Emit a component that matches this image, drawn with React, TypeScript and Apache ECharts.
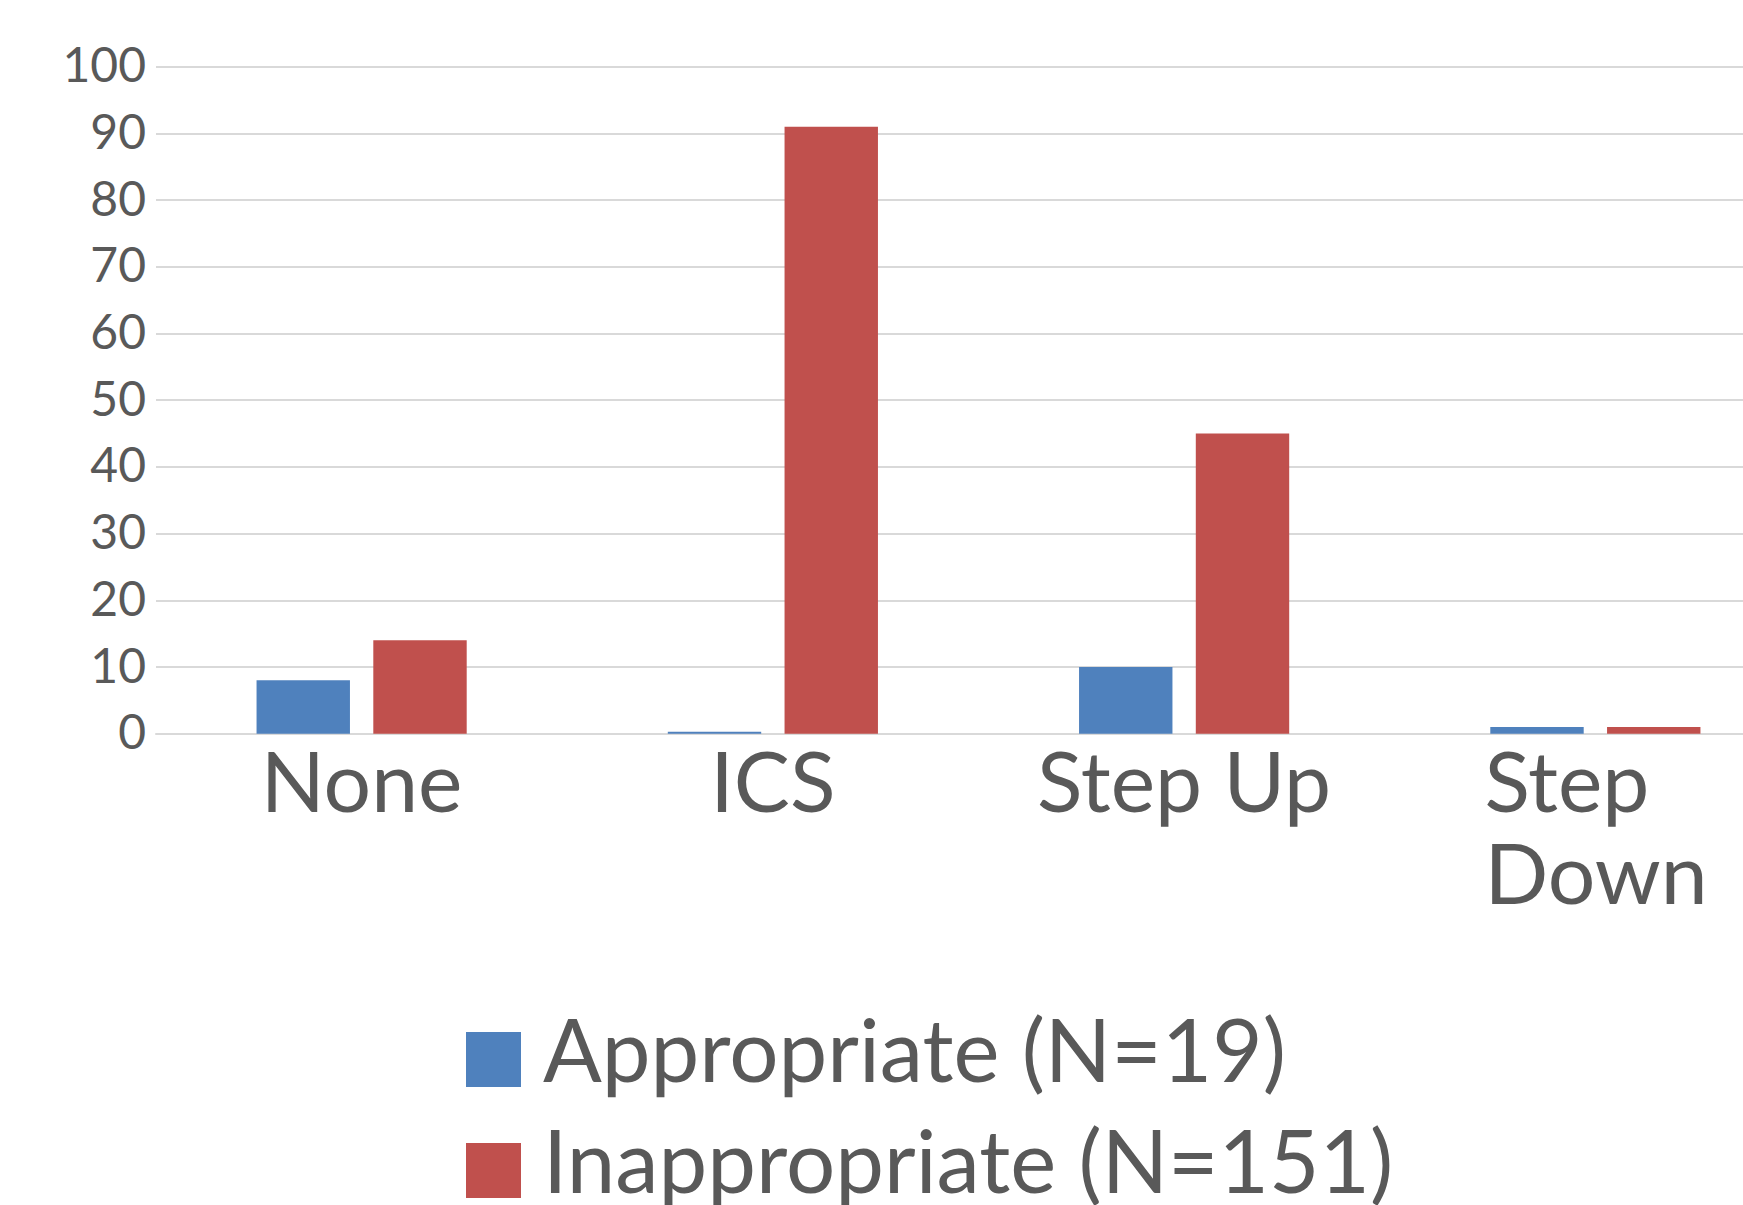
import React, { useEffect, useRef } from "react";
import * as echarts from "echarts";

// Categories along the x axis
const categories = ["None", "ICS", "Step Up", "Step Down"];
// Counts per category for each group
const appropriate = [8, 0, 10, 1];
const inappropriate = [14, 91, 45, 1];
const seriesNames = ["Appropriate (N=19)", "Inappropriate (N=151)"];
const yMin = 0;
const yMax = 100;
const yStep = 10;

const TEXT = "#595959";
const FONT = "Lato";

// One legend box per series, stacked vertically
function legendBox(name: string, top: number) {
  return {
    orient: "vertical",
    left: 466,
    top,
    icon: "rect",
    itemWidth: 55,
    itemHeight: 55,
    padding: 0,
    selectedMode: false,
    formatter: (n: string) => `{t|${n}}`,
    textStyle: {
      fontFamily: FONT,
      fontSize: 87,
      color: TEXT,
      rich: {
        t: { fontFamily: FONT, fontSize: 87, color: TEXT, lineHeight: 55, padding: [0, 0, 22, 17] },
      },
    },
    data: [name],
  };
}

export default function App() {
  const ref = useRef<HTMLDivElement>(null);

  useEffect(() => {
    if (!ref.current) return;
    const chart = echarts.init(ref.current, undefined, { renderer: "svg" });
    chart.setOption({
      animation: false,
      backgroundColor: "#ffffff",
      grid: { left: 156, width: 1645, top: 66.7, height: 667, containLabel: false, outerBoundsMode: "none" },
      legend: [legendBox(seriesNames[0], 1005), legendBox(seriesNames[1], 1116)],
      xAxis: {
        type: "category",
        data: categories,
        axisLine: { show: true, lineStyle: { color: "#D9D9D9", width: 2 } },
        axisTick: { show: false },
        axisLabel: {
          margin: 0,
          fontFamily: FONT,
          fontSize: 84,
          color: TEXT,
          lineHeight: 92,
          interval: 0,
          formatter: (v: string) => (v === "Step Down" ? "{sd|Step}\n{sd|Down}" : v),
          rich: {
            sd: { width: 222, align: "left", fontFamily: FONT, fontSize: 84, color: TEXT, lineHeight: 92 },
          },
        },
      },
      yAxis: {
        type: "value",
        min: yMin,
        max: yMax,
        interval: yStep,
        axisLine: { show: false },
        axisTick: { show: false },
        splitLine: { lineStyle: { color: "#D9D9D9", width: 2 } },
        axisLabel: {
          margin: 10,
          fontFamily: FONT,
          fontSize: 48,
          color: TEXT,
          formatter: (v: number) => `{v|${v}}`,
          rich: { v: { fontFamily: FONT, fontSize: 48, color: TEXT, padding: [0, 0, 6, 0] } },
        },
      },
      series: [
        {
          name: seriesNames[0],
          type: "bar",
          data: appropriate,
          barWidth: 93.4,
          barGap: "25%",
          barMinHeight: 2,
          itemStyle: { color: "#4F81BD" },
        },
        {
          name: seriesNames[1],
          type: "bar",
          data: inappropriate,
          barWidth: 93.4,
          barGap: "25%",
          itemStyle: { color: "#C0504D" },
        },
      ],
    });
    return () => chart.dispose();
  }, []);

  return (
    <div
      ref={ref}
      style={{ position: "fixed", left: 0, top: 0, width: 1743, height: 1205, background: "#fff" }}
    />
  );
}
